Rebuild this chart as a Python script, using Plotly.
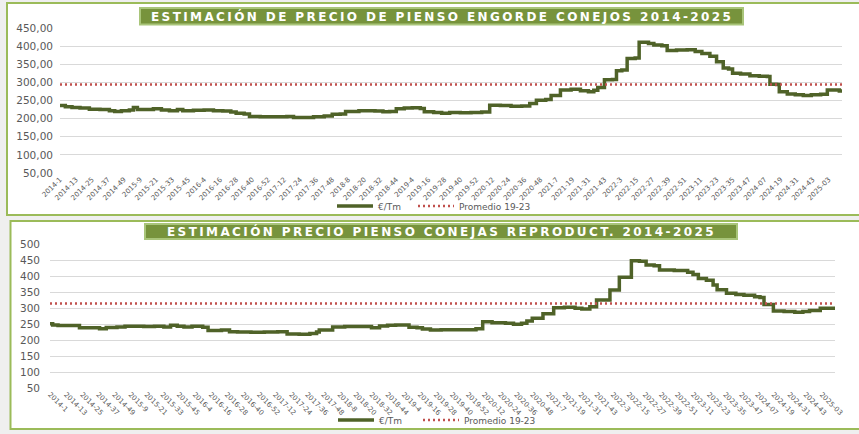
import plotly.graph_objects as go

# ---------------- DATA ----------------
tick_labels_top = ["2014-1", "2014-13", "2014-25", "2014-37", "2014-49", "2015-9", "2015-21", "2015-33",
                   "2015-45", "2016-4", "2016-16", "2016-28", "2016-40", "2016-52", "2017-12", "2017-24",
                   "2017-36", "2017-48", "2018-8", "2018-20", "2018-32", "2018-44", "2019-4", "2019-16",
                   "2019-28", "2019-40", "2019-52", "2020-12", "2020-24", "2020-36", "2020-48", "2021-7",
                   "2021-19", "2021-31", "2021-43", "2022-3", "2022-15", "2022-27", "2022-39", "2022-51",
                   "2023-11", "2023-23", "2023-35", "2023-47", "2024-07", "2024-19", "2024-31", "2024-43",
                   "2025-03"]
tick_labels_bottom = list(tick_labels_top)

# week index (weeks since 2014-1) where the price changes, and the price (€/Tm)
engorde_week = [0, 4, 9, 15, 22, 30, 37, 41, 46, 52, 55, 58, 64, 70, 76, 82, 88, 92, 100, 108,
                115, 122, 128, 132, 138, 142, 150, 160, 170, 175, 182, 190, 198, 204, 210, 214, 224,
                236, 242, 247, 252, 258, 264, 270, 273, 280, 286, 292, 300, 308, 316, 322, 330, 338,
                346, 352, 357, 364, 368, 375, 383, 390, 396, 400, 403, 408, 414, 417, 421, 425, 431,
                434, 441, 445, 451, 455, 462, 470, 476, 481, 487, 492, 497, 501, 504, 510, 517, 524,
                530, 532, 537, 539, 545, 551, 557, 563, 570, 575, 580, 584, 586]
engorde_price = [236, 233, 231, 229, 226, 225, 222, 220, 222, 224, 231, 225, 225, 227, 224, 222, 225,
                 222, 223, 224, 222, 221, 218, 215, 213, 206, 205, 205.5, 206, 203, 203, 205, 207, 212,
                 213, 220, 222, 221, 219, 220, 227, 229, 230, 228, 219, 217, 215, 217, 216, 217, 218,
                 237, 236, 234, 235, 242, 251, 253, 264, 279, 281, 277, 274, 278, 286, 307, 308, 332,
                 334, 366, 367, 411, 407, 403, 401, 388, 389, 390, 385, 380, 372, 357, 340, 337, 325,
                 323, 318, 317, 316, 295, 294, 274, 268, 266, 264, 266, 267, 279, 279, 276, 276]
engorde_promedio = 294

reprod_week = [0, 2, 6, 22, 30, 37, 42, 50, 56, 70, 78, 85, 90, 95, 100, 106, 114, 118, 128, 134,
               140, 150, 160, 170, 177, 186, 194, 199, 201, 211, 220, 230, 240, 246, 252, 258, 268,
               274, 278, 284, 292, 300, 310, 318, 323, 330, 340, 346, 352, 356, 360, 368, 376, 384,
               392, 397, 403, 408, 418, 425, 434, 440, 445, 451, 455, 466, 476, 480, 484, 490, 495,
               498, 505, 512, 518, 526, 530, 533, 540, 548, 556, 562, 567, 575, 586]
reprod_price = [251, 247, 245, 238, 238, 235, 239, 241, 243, 242, 243, 241, 246, 243, 241, 243, 240,
                230, 231, 226, 225, 224, 225, 225.5, 219, 218, 220, 225, 231, 241, 242, 242, 238, 244,
                246, 247, 240, 238, 234, 231, 232, 232, 232, 235, 257, 254, 252, 249, 252, 259, 268,
                282, 301, 302, 299, 297, 304, 325, 356, 396, 448, 446, 434, 432, 419, 417, 412, 405,
                392, 387, 372, 357, 346, 342, 340, 335, 333, 311, 291, 289, 287, 289, 292, 299, 296]
reprod_promedio = 314

top_yticks = [50, 100, 150, 200, 250, 300, 350, 400, 450]
top_yticktext = ["50,00", "100,00", "150,00", "200,00", "250,00", "300,00", "350,00", "400,00", "450,00"]
bottom_yticks = [50, 100, 150, 200, 250, 300, 350, 400, 450, 500]

title_top = "ESTIMACIÓN DE PRECIO DE PIENSO ENGORDE CONEJOS 2014-2025"
title_bottom = "ESTIMACIÓN PRECIO PIENSO CONEJAS REPRODUCT. 2014-2025"

# ---------------- STYLE ----------------
W, H = 859, 434
GREEN_LINE = "#4f6228"
RED_DOT = "#c0504d"
BORDER = "#9bbb59"
BOX_FILL = "#77933c"
GRID = "#d9d9d9"
TXT = "#595959"


def px(x):
    return x / W


def py(y):
    return 1 - y / H


last_week = 586

fig = go.Figure()

fig.add_trace(go.Scatter(x=engorde_week, y=engorde_price, mode="lines", name="€/Tm",
                         line=dict(color=GREEN_LINE, width=3.5, shape="hv"),
                         xaxis="x", yaxis="y", legend="legend"))
fig.add_trace(go.Scatter(x=[0, last_week], y=[engorde_promedio, engorde_promedio], mode="lines",
                         name="Promedio 19-23",
                         line=dict(color=RED_DOT, width=2.5, dash="2px,3px"),
                         xaxis="x", yaxis="y", legend="legend3"))

fig.add_trace(go.Scatter(x=reprod_week, y=reprod_price, mode="lines", name="€/Tm",
                         line=dict(color=GREEN_LINE, width=3.5, shape="hv"),
                         xaxis="x2", yaxis="y2", legend="legend2"))
fig.add_trace(go.Scatter(x=[0, last_week], y=[reprod_promedio, reprod_promedio], mode="lines",
                         name="Promedio 19-23",
                         line=dict(color=RED_DOT, width=2.5, dash="2px,3px"),
                         xaxis="x2", yaxis="y2", legend="legend4"))

tickvals = [12 * k for k in range(len(tick_labels_top))]

legend_common = dict(orientation="h", xanchor="left", yanchor="middle",
                     bgcolor="rgba(0,0,0,0)", font=dict(size=9, color=TXT), itemwidth=36,
                     tracegroupgap=0)

fig.update_layout(
    width=W, height=H, autosize=False,
    margin=dict(l=0, r=0, t=0, b=0, autoexpand=False),
    paper_bgcolor="#efefef", plot_bgcolor="rgba(0,0,0,0)",
    font=dict(family="DejaVu Sans", color=TXT),
    xaxis=dict(domain=[px(60), px(842)], range=[0, last_week], anchor="y", automargin=False,
               tickmode="array", tickvals=tickvals, ticktext=tick_labels_top,
               tickangle=-45, tickfont=dict(size=7, color=TXT), showgrid=False,
               zeroline=False, showline=False, ticks=""),
    yaxis=dict(domain=[py(173), py(28)], range=[50, 450], anchor="x", automargin=False,
               tickmode="array", tickvals=top_yticks, ticktext=top_yticktext,
               tickfont=dict(size=10.5, color=TXT), showgrid=True, gridcolor=GRID, gridwidth=1,
               zeroline=False, showline=False, ticks="", ticklabelstandoff=6),
    xaxis2=dict(domain=[px(50), px(835)], range=[0, last_week], anchor="y2", automargin=False,
                tickmode="array", tickvals=tickvals, ticktext=tick_labels_bottom,
                tickangle=45, tickfont=dict(size=7, color=TXT), showgrid=False,
                zeroline=False, showline=False, ticks=""),
    yaxis2=dict(domain=[py(388), py(244)], range=[50, 500], anchor="x2", automargin=False,
                tickmode="array", tickvals=bottom_yticks,
                tickfont=dict(size=10.5, color=TXT), showgrid=True, gridcolor=GRID, gridwidth=1,
                zeroline=False, showline=False, ticks="", ticklabelstandoff=9),
    legend=dict(x=px(332), y=py(206), **legend_common),
    legend3=dict(x=px(413), y=py(206), **legend_common),
    legend2=dict(x=px(333), y=py(420), **legend_common),
    legend4=dict(x=px(418), y=py(420), **legend_common),
    showlegend=True,
)

shapes = []
# panels
shapes.append(dict(type="rect", xref="paper", yref="paper", x0=px(7), x1=px(880), y0=py(215), y1=py(3),
                   fillcolor="white", line=dict(color=BORDER, width=2), layer="below"))
shapes.append(dict(type="rect", xref="paper", yref="paper", x0=px(10.5), x1=px(880), y0=py(429), y1=py(221),
                   fillcolor="white", line=dict(color=BORDER, width=2), layer="below"))
# title boxes
shapes.append(dict(type="rect", xref="paper", yref="paper", x0=px(140), x1=px(743), y0=py(24.5), y1=py(8),
                   fillcolor=BOX_FILL, line=dict(color="#a9c57a", width=2), layer="above"))
shapes.append(dict(type="rect", xref="paper", yref="paper", x0=px(145), x1=px(737), y0=py(239), y1=py(224),
                   fillcolor=BOX_FILL, line=dict(color="#a9c57a", width=2), layer="above"))
fig.update_layout(shapes=shapes)

SPACED = '<span style="letter-spacing:2.4px">{}</span>'
fig.add_annotation(x=px((140 + 743) / 2), y=py(16.5), xref="paper", yref="paper",
                   text=SPACED.format(title_top),
                   showarrow=False, font=dict(family="DejaVu Sans", size=12, color="white", weight="bold"),
                   xanchor="center", yanchor="middle")
fig.add_annotation(x=px((145 + 737) / 2), y=py(231.5), xref="paper", yref="paper",
                   text=SPACED.format(title_bottom),
                   showarrow=False, font=dict(family="DejaVu Sans", size=12, color="white", weight="bold"),
                   xanchor="center", yanchor="middle")

fig.write_html("out.html", config={"displayModeBar": False},
               post_script="document.body.style.margin='0';document.body.style.overflow='hidden';")
